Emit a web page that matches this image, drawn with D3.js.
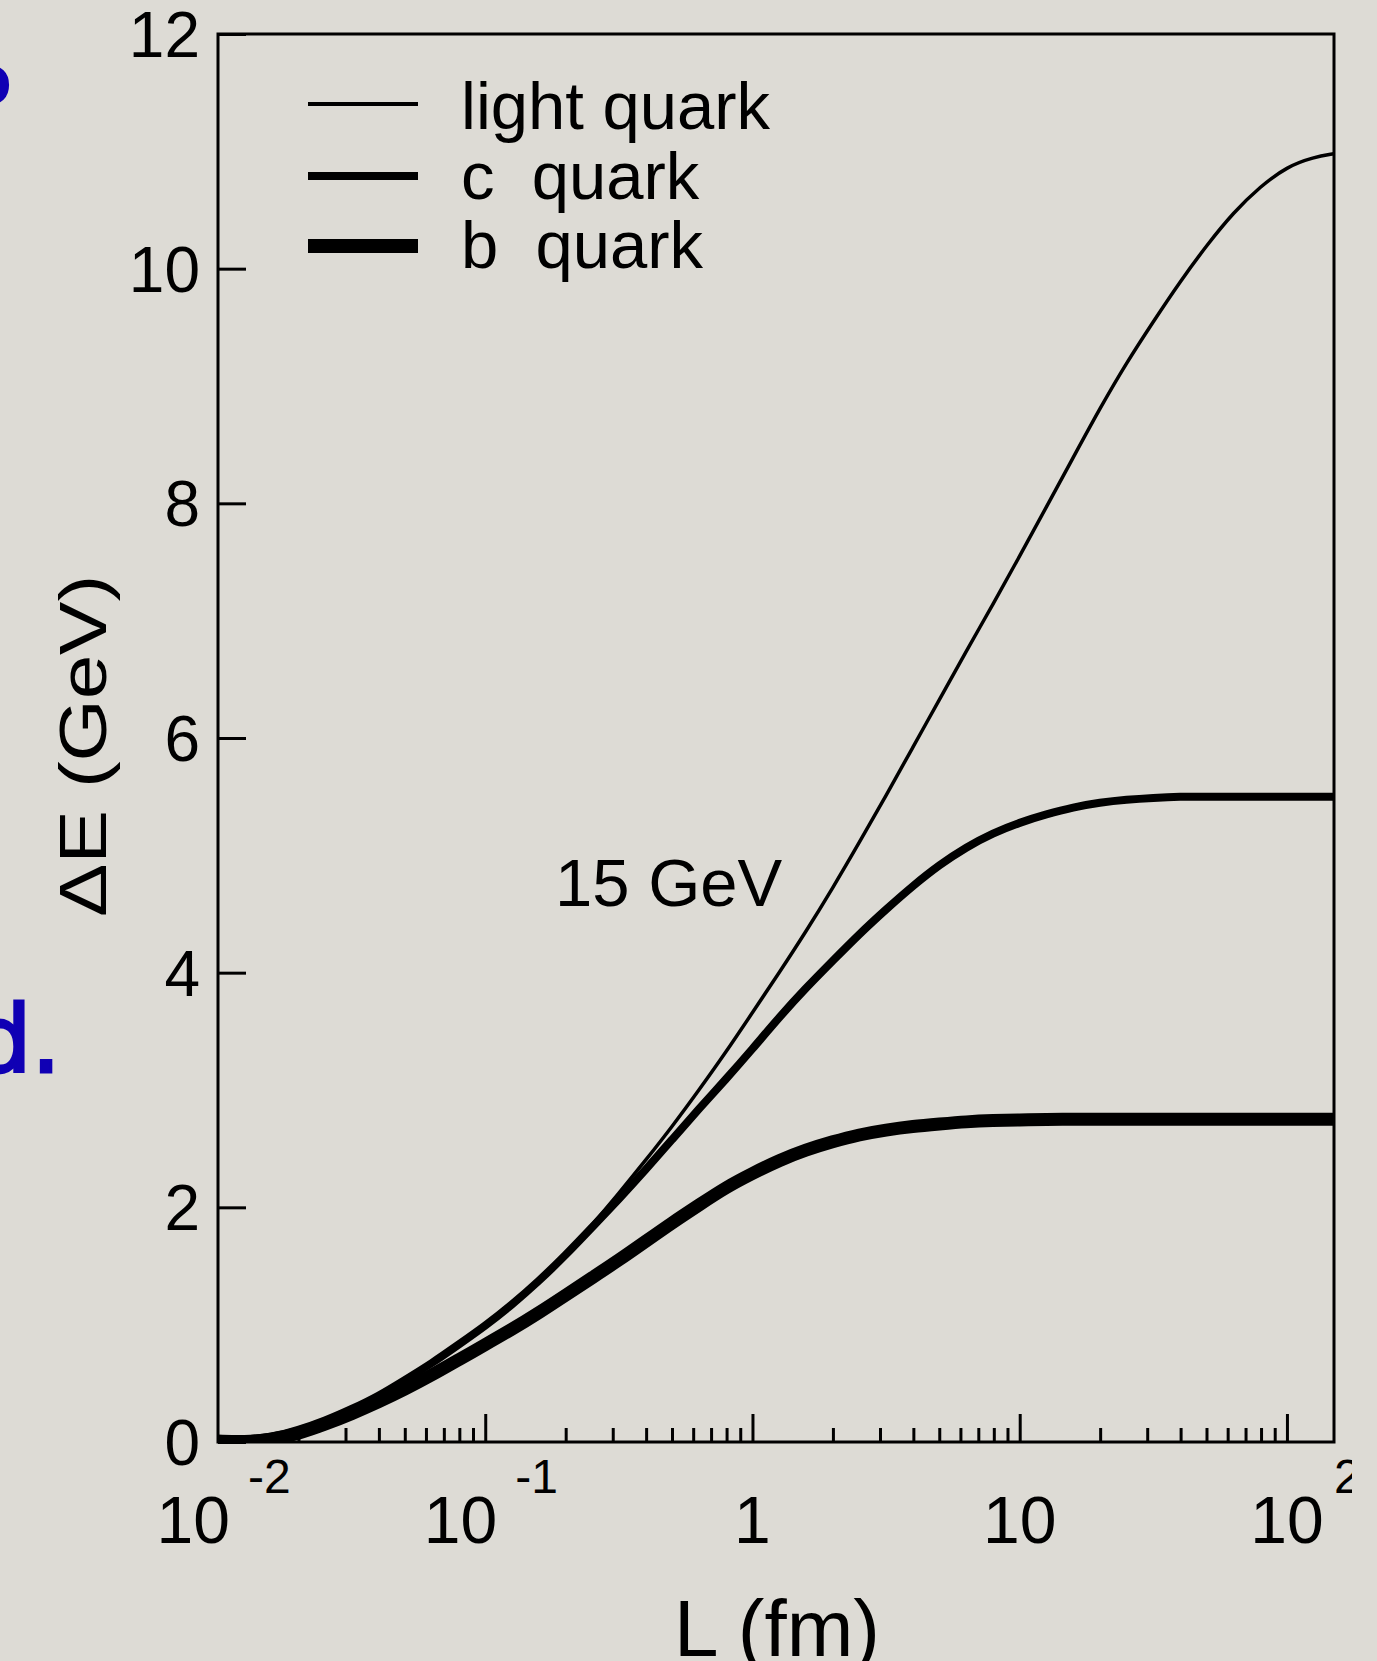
<!DOCTYPE html>
<html>
<head>
<meta charset="utf-8">
<script src="https://cdn.jsdelivr.net/npm/d3@7"></script>
<style>
  html, body { margin: 0; padding: 0; background: #dddbd5; }
  svg { display: block; }
  text { font-family: "Liberation Sans", Arial, Helvetica, sans-serif; fill: #000; }
</style>
</head>
<body>
<svg id="chart" width="1377" height="1661"></svg>
<script>
// ---- data ----
const log10L = [-2.0,-1.9,-1.8,-1.7,-1.6,-1.5,-1.4,-1.3,-1.2,-1.1,-1.0,-0.9,-0.8,-0.7,-0.6,-0.5,-0.4,-0.3,-0.2,-0.1,
  0.0,0.1,0.2,0.3,0.4,0.5,0.6,0.7,0.8,0.9,1.0,1.1,1.2,1.3,1.4,1.5,1.6,1.7,1.8,1.9,2.0,2.1,2.176];
const lightQuark = [0.03,0.02,0.04,0.10,0.18,0.28,0.39,0.53,0.67,0.83,0.99,1.17,1.37,1.60,1.85,2.12,2.40,2.69,3.00,3.32,
  3.66,4.00,4.35,4.72,5.11,5.51,5.92,6.33,6.74,7.14,7.55,7.97,8.39,8.81,9.20,9.55,9.89,10.20,10.48,10.70,10.87,10.95,10.98];
const cQuark = [0.03,0.02,0.04,0.10,0.18,0.28,0.39,0.53,0.67,0.83,0.99,1.17,1.37,1.59,1.83,2.07,2.32,2.58,2.84,3.09,
  3.35,3.62,3.87,4.10,4.33,4.54,4.74,4.92,5.07,5.19,5.28,5.35,5.41,5.45,5.475,5.49,5.50,5.50,5.50,5.50,5.50,5.50,5.50];
const bQuark = [0.0,0.0,0.02,0.07,0.15,0.24,0.34,0.45,0.57,0.70,0.83,0.96,1.10,1.25,1.40,1.55,1.71,1.87,2.02,2.17,
  2.29,2.40,2.49,2.56,2.62,2.66,2.69,2.71,2.73,2.74,2.745,2.75,2.75,2.75,2.75,2.75,2.75,2.75,2.75,2.75,2.75,2.75,2.75];

const seriesNames = ["light quark", "c  quark", "b  quark"];
const seriesWidths = [3.5, 8, 13];
const yTicks = [0, 2, 4, 6, 8, 10, 12];
const xMajorTicks = [0.01, 0.1, 1, 10, 100];
const xTickBase = ["10", "10", "1", "10", "10"];
const xTickExp = ["-2", "-1", "", "", "2"];
const annotation = "15 GeV";
const xTitle = "L (fm)";
const yTitle = "\u0394E (GeV)";

// ---- layout ----
const svg = d3.select("#chart");
const mLeft = 218, mRight = 1334, mTop = 34, mBottom = 1442;
const x = d3.scaleLog().domain([0.01, 150]).range([mLeft, mRight]);
const y = d3.scaleLinear().domain([0, 12]).range([mBottom, mTop]);

// fragments of handwritten blue slide text cut by the left edge
svg.append("text").attr("x", -36).attr("y", 104).attr("font-size", 70).attr("font-weight", "bold")
  .style("fill", "#1000b4").style("font-family", "DejaVu Sans").text("o");
svg.append("text").attr("x", -27).attr("y", 1072).attr("font-size", 92)
  .style("fill", "#1000b4").style("font-family", "DejaVu Sans").style("stroke", "#1000b4")
  .style("stroke-width", 3).text("d.");

// clip for curves
svg.append("clipPath").attr("id", "plotclip").append("rect")
  .attr("x", mLeft).attr("y", mTop).attr("width", mRight - mLeft).attr("height", mBottom - mTop);

// curves
const seriesData = [lightQuark, cQuark, bQuark];
const line = d3.line().x(d => x(d[0])).y(d => y(d[1])).curve(d3.curveBasis);
const gCurves = svg.append("g").attr("clip-path", "url(#plotclip)");
seriesData.forEach((vals, i) => {
  const pts = log10L.map((lv, k) => [Math.pow(10, lv), vals[k]]);
  gCurves.append("path").attr("d", line(pts)).attr("fill", "none")
    .attr("stroke", "#000").attr("stroke-width", seriesWidths[i])
    .attr("stroke-linejoin", "round").attr("stroke-linecap", "butt");
});

// frame
svg.append("rect").attr("x", mLeft).attr("y", mTop).attr("width", mRight - mLeft).attr("height", mBottom - mTop)
  .attr("fill", "none").attr("stroke", "#000").attr("stroke-width", 3);

// x ticks (inward)
const xAxisMajor = d3.axisTop(x).tickValues(xMajorTicks.slice(1)).tickSize(28).tickFormat("");
const gxMaj = svg.append("g").attr("transform", `translate(0,${mBottom})`).call(xAxisMajor);
const minorVals = [];
[0.01, 0.1, 1, 10].forEach(d => { for (let m = 2; m <= 9; m++) { const v = d * m; if (v < 150) minorVals.push(v); } });
const xAxisMinor = d3.axisTop(x).tickValues(minorVals).tickSize(14).tickFormat("");
const gxMin = svg.append("g").attr("transform", `translate(0,${mBottom})`).call(xAxisMinor);
[gxMaj, gxMin].forEach(g => {
  g.select(".domain").remove();
  g.selectAll(".tick line").attr("stroke", "#000").attr("stroke-width", 3);
});

// x tick labels with superscripts
svg.append("clipPath").attr("id", "expclip").append("rect")
  .attr("x", 0).attr("y", 0).attr("width", 1352).attr("height", 1661);
xMajorTicks.forEach((v, i) => {
  const tx = x(v);
  const exp = xTickExp[i];
  const negative = exp.startsWith("-");
  const base = svg.append("text").attr("y", 1543).attr("font-size", 66).text(xTickBase[i]);
  if (exp === "") {
    base.attr("x", tx).attr("text-anchor", "middle");
  } else if (negative) {
    base.attr("x", tx + 12).attr("text-anchor", "end");
    svg.append("text").attr("x", tx + 30).attr("y", 1493).attr("font-size", 48).text(exp);
  } else {
    base.attr("x", tx).attr("text-anchor", "middle");
    svg.append("text").attr("x", tx + 47).attr("y", 1493).attr("font-size", 48)
      .attr("clip-path", "url(#expclip)").text(exp);
  }
});

// y ticks
const yAxis = d3.axisRight(y).tickValues(yTicks).tickSize(28).tickFormat("");
const gy = svg.append("g").attr("transform", `translate(${mLeft},0)`).call(yAxis);
gy.select(".domain").remove();
gy.selectAll(".tick line").attr("stroke", "#000").attr("stroke-width", 3);
yTicks.forEach(v => {
  svg.append("text").attr("x", 200).attr("y", y(v) + 23).attr("text-anchor", "end")
    .attr("font-size", 64).text(d3.format("d")(v));
});

// axis titles
svg.append("text").attr("x", 777).attr("y", 1656).attr("text-anchor", "middle")
  .attr("font-size", 80).text(xTitle);
svg.append("text").attr("transform", "translate(106,746) rotate(-90)")
  .attr("text-anchor", "middle").attr("font-size", 66)
  .attr("textLength", 342).attr("lengthAdjust", "spacingAndGlyphs").text(yTitle);

// annotation
svg.append("text").attr("x", 555).attr("y", 906).attr("font-size", 67).text(annotation);

// legend
const legendY = [104, 176, 246];
const legendTextY = [129, 199, 268];
seriesNames.forEach((name, i) => {
  svg.append("line").attr("x1", 308).attr("x2", 418).attr("y1", legendY[i]).attr("y2", legendY[i])
    .attr("stroke", "#000").attr("stroke-width", [4, 8, 14][i]);
  svg.append("text").attr("x", 461).attr("y", legendTextY[i]).attr("font-size", 67)
    .style("white-space", "pre").text(name);
});
</script>
</body>
</html>
